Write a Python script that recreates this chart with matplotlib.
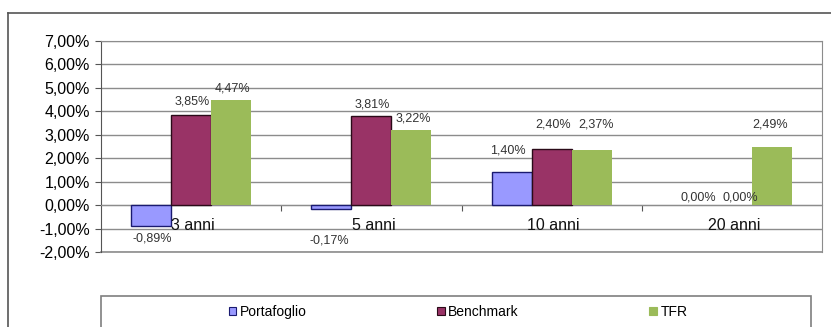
import numpy as np
import matplotlib
matplotlib.use("Agg")
import matplotlib.pyplot as plt
from matplotlib.lines import Line2D
from matplotlib.patches import Rectangle

plt.rcParams['font.family'] = ['Liberation Sans', 'DejaVu Sans']

categories = ['3 anni', '5 anni', '10 anni', '20 anni']
series = ['Portafoglio', 'Benchmark', 'TFR']
portafoglio = [-0.89, -0.17, 1.40, 0.00]
benchmark = [3.85, 3.81, 2.40, 0.00]
tfr = [4.47, 3.22, 2.37, 2.49]
yticks = [-2, -1, 0, 1, 2, 3, 4, 5, 6, 7]

values = [portafoglio, benchmark, tfr]
colors = ['#9999FF', '#993366', '#9BBB59']
edges = ['#1a1a70', '#2a0a18', 'none']
# label nudges in pixels (dx, dy from bar end), as placed in the original
nudges = [
    [(1, -13), (-2, -31), (-4, 22), (6, 8)],
    [(1, 13), (1, 11), (2, 24), (8, 8)],
    [(1, 12), (2, 11), (4, 25), (-2, 22)],
]

W, H = 831, 327
fig = plt.figure(figsize=(W / 100, H / 100), dpi=100)
ax = fig.add_axes([101 / W, 1 - 252 / H, (822 - 101) / W, (252 - 41) / H])

x = np.arange(len(categories))
bw = 0.222
grid_c = '#8c8c8c'

for k, vals in enumerate(values):
    pos = x + (k - 1) * bw
    bars = ax.bar(pos, vals, width=bw, color=colors[k], edgecolor=edges[k],
                  linewidth=1.0 if edges[k] != 'none' else 0, zorder=3, label=series[k])
    for i, v in enumerate(vals):
        if v == 0:
            bars[i].set_linewidth(0)
        dx, dy = nudges[k][i]
        txt = ('%.2f%%' % v).replace('.', ',')
        ax.annotate(txt, (pos[i], v), xytext=(dx, dy), textcoords='offset pixels',
                    ha='center', va='center', fontsize=9, color='#333333', zorder=5)

ax.set_xlim(-0.5, len(categories) - 0.5)
ax.set_ylim(-2, 7)
ax.set_yticks(yticks)
ax.set_yticklabels([('%.2f%%' % t).replace('.', ',') for t in yticks], fontsize=11.5)
ax.yaxis.grid(True, color=grid_c, linewidth=1.0, zorder=0)
ax.set_axisbelow(True)
ax.tick_params(axis='y', length=4, color='#555555', pad=4)

# category axis sits on the zero line
ax.spines['bottom'].set_position(('data', 0))
ax.spines['bottom'].set_color(grid_c)
ax.set_xticks(x[:-1] + 0.5)
ax.set_xticklabels([])
ax.tick_params(axis='x', length=4, color='#555555', direction='out')
for i, c in enumerate(categories):
    ax.annotate(c, (x[i], 0), xytext=(2, -20), textcoords='offset pixels',
                ha='center', va='center', fontsize=11.5, color='#111111', zorder=4)

for s in ['top', 'right']:
    ax.spines[s].set_color(grid_c)
ax.spines['left'].set_color('#555555')
ax.plot([0, 1], [0, 0], transform=ax.transAxes, color=grid_c, lw=1.2,
        clip_on=False, zorder=2)

# outer chart frame (cut off at right and bottom)
fig.add_artist(Line2D([8 / W, 1], [1 - 13 / H, 1 - 13 / H], color='#555555', lw=1.2))
fig.add_artist(Line2D([8 / W, 8 / W], [1 - 13 / H, 0], color='#555555', lw=1.2))

# legend box
fig.add_artist(Rectangle((101 / W, -0.05), (811 - 101) / W, 0.05 + 1 - 296 / H,
                         transform=fig.transFigure, facecolor='white',
                         edgecolor='#7f7f7f', lw=1.2))
handles = [Rectangle((0, 0), 1, 1, facecolor=colors[k],
                     edgecolor=edges[k] if edges[k] != 'none' else colors[k], lw=0.8)
           for k in range(3)]
fig.legend(handles, series, loc='center', bbox_to_anchor=(458 / W, 1 - 312 / H),
           ncol=3, frameon=False, fontsize=10, handlelength=0.55, handleheight=0.55,
           handletextpad=0.25, columnspacing=9.4, borderpad=0)

fig.savefig('out.png', dpi=100)
